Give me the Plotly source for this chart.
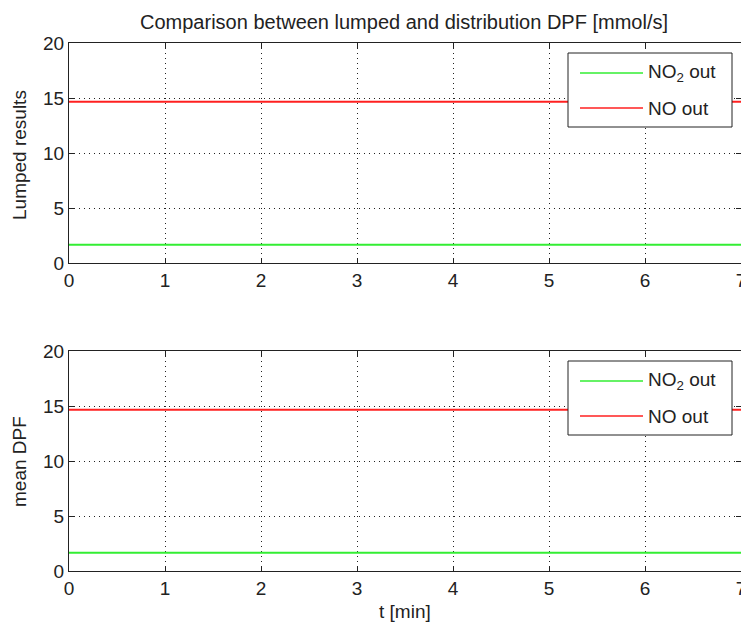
import plotly.graph_objects as go

t_min = [0, 7]
lumped_no2 = [1.67, 1.67]
lumped_no = [14.65, 14.65]
mean_no2 = [1.67, 1.67]
mean_no = [14.65, 14.65]
x_ticks = [0, 1, 2, 3, 4, 5, 6, 7]
y_ticks = [0, 5, 10, 15, 20]
legend_names = ["NO<sub>2</sub> out", "NO out"]

GREEN = "#33ee33"
RED = "#ff2020"
INK = "#222222"
FONT = dict(family="Liberation Sans, Arial, sans-serif", size=19, color=INK)
TITLE_FONT = dict(family="Liberation Sans, Arial, sans-serif", size=20, color=INK)

W, H = 741, 625
def px(x):
    return x / W
def py(y):
    return 1 - y / H

fig = go.Figure()
fig.add_trace(go.Scatter(x=t_min, y=lumped_no2, mode="lines", line=dict(color=GREEN, width=2),
                         name=legend_names[0], xaxis="x", yaxis="y"))
fig.add_trace(go.Scatter(x=t_min, y=lumped_no, mode="lines", line=dict(color=RED, width=2),
                         name=legend_names[1], xaxis="x", yaxis="y"))
fig.add_trace(go.Scatter(x=t_min, y=mean_no2, mode="lines", line=dict(color=GREEN, width=2),
                         name=legend_names[0], xaxis="x2", yaxis="y2"))
fig.add_trace(go.Scatter(x=t_min, y=mean_no, mode="lines", line=dict(color=RED, width=2),
                         name=legend_names[1], xaxis="x2", yaxis="y2"))

axis_common = dict(showline=True, linecolor=INK, linewidth=1, mirror="ticks",
                   ticks="inside", ticklen=5, tickcolor=INK,
                   showgrid=True, gridcolor=INK, griddash="1px,4px", gridwidth=1,
                   zeroline=False, tickfont=FONT, automargin=False,
                   ticklabeloverflow="allow")

shapes = []
annotations = [dict(text="Comparison between lumped and distribution DPF [mmol/s]",
                    x=px(404), y=py(22), xref="paper", yref="paper", showarrow=False,
                    font=TITLE_FONT, xanchor="center", yanchor="middle"),
               dict(text="Lumped results", x=px(19), y=py(155), xref="paper", yref="paper",
                    showarrow=False, font=FONT, textangle=-90, xanchor="center", yanchor="middle"),
               dict(text="mean DPF", x=px(19), y=py(462), xref="paper", yref="paper",
                    showarrow=False, font=FONT, textangle=-90, xanchor="center", yanchor="middle"),
               dict(text="t [min]", x=px(405), y=py(611), xref="paper", yref="paper",
                    showarrow=False, font=FONT, xanchor="center", yanchor="middle")]

# manual MATLAB-style legend boxes
for off in (0, 308):
    shapes.append(dict(type="rect", xref="paper", yref="paper",
                       x0=px(568), x1=px(732), y0=py(53 + off), y1=py(127 + off),
                       line=dict(color=INK, width=1), fillcolor="white", layer="above"))
    for name, col, yy in ((legend_names[0], GREEN, 73), (legend_names[1], RED, 108)):
        shapes.append(dict(type="line", xref="paper", yref="paper",
                           x0=px(580), x1=px(643), y0=py(yy + off), y1=py(yy + off),
                           line=dict(color=col, width=1.5), layer="above"))
        annotations.append(dict(text=name, x=px(646), y=py(yy + off), xref="paper", yref="paper",
                                showarrow=False, font=FONT, xanchor="left", yanchor="middle"))

fig.update_layout(
    width=W, height=H,
    margin=dict(l=0, r=0, t=0, b=0),
    paper_bgcolor="white", plot_bgcolor="white",
    font=FONT, showlegend=False,
    xaxis=dict(domain=[px(69), 1.0], range=[0, 7], tickvals=x_ticks, anchor="y", **axis_common),
    yaxis=dict(domain=[py(263), py(43)], range=[0, 20], tickvals=y_ticks, anchor="x", **axis_common),
    xaxis2=dict(domain=[px(69), 1.0], range=[0, 7], tickvals=x_ticks, anchor="y2", **axis_common),
    yaxis2=dict(domain=[py(571), py(351)], range=[0, 20], tickvals=y_ticks, anchor="x2", **axis_common),
    shapes=shapes,
    annotations=annotations,
)

fig.write_html("out.html", config={"displayModeBar": False},
               post_script="document.body.style.margin='0';document.body.style.padding='0';")
